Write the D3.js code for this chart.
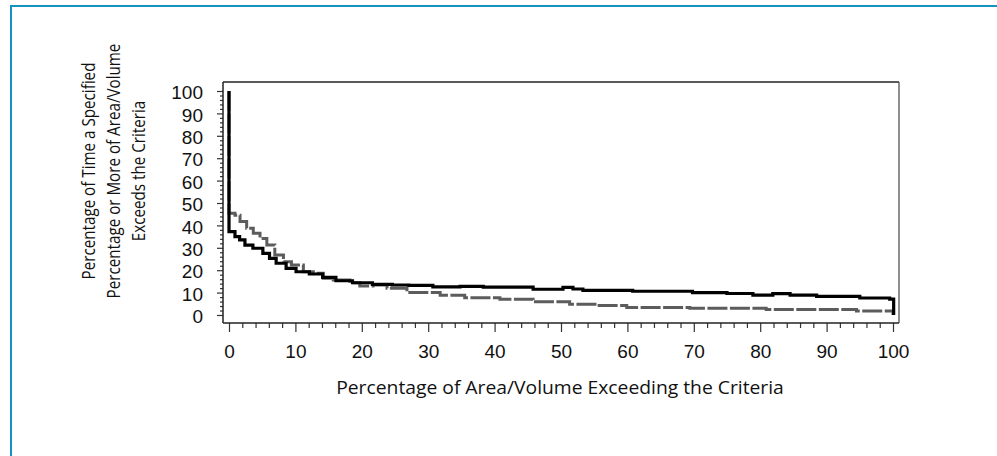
<!DOCTYPE html>
<html>
<head>
<meta charset="utf-8">
<script src="https://cdn.jsdelivr.net/npm/d3@7"></script>
<style>
  html, body { margin: 0; padding: 0; background: #fff; }
  svg { display: block; }
</style>
</head>
<body>
<svg id="chart" width="997" height="456"></svg>
<script>
// ---- data ----
const xTickLabels = [0, 10, 20, 30, 40, 50, 60, 70, 80, 90, 100];
const yTickLabels = [0, 10, 20, 30, 40, 50, 60, 70, 80, 90, 100];

// Solid black series: step starts (x) and level (y)
const solidX = [0, 0, 0.9, 1.6, 2.4, 3.6, 5.1, 6.1, 7.1, 8.6, 10.1, 12.1, 14.1, 16.1, 18.6, 21.6, 24.6, 27.1, 30.7, 34.8, 38.3, 45.8, 50.3, 51.8, 53.3, 60.8, 69.8, 75.0, 78.9, 81.9, 84.5, 88.5, 95.0, 99.5, 100.1];
const solidY = [100, 37.2, 35.0, 33.5, 31.2, 29.8, 27.5, 25.3, 23.1, 20.8, 19.3, 18.3, 16.8, 15.3, 14.4, 13.7, 13.4, 13.2, 12.6, 12.8, 12.4, 11.5, 12.3, 11.6, 11.0, 10.6, 10.0, 9.6, 8.9, 9.5, 8.9, 8.3, 7.6, 7.1, 0];

// Dashed grey series
const dashedX = [0, 0, 0.9, 1.66, 2.66, 3.66, 4.67, 5.7, 6.9, 8.2, 9.4, 11.2, 12.7, 14.2, 15.7, 18.2, 19.7, 21.7, 23.8, 26.8, 31.8, 35.5, 40.8, 45.8, 51.3, 55.4, 59.9, 69.4, 80.9, 94.5, 100];
const dashedY = [100, 45.4, 44.5, 41.7, 38.7, 36.5, 34.2, 31.2, 26.8, 23.8, 22.3, 19.3, 18.6, 16.4, 15.6, 14.4, 13.0, 13.4, 11.9, 10.1, 8.8, 7.7, 7.0, 5.9, 4.8, 4.2, 3.3, 3.0, 2.5, 1.8, 0];

const yTitleLines = ["Percentage of Time a Specified", "Percentage or More of Area/Volume", "Exceeds the Criteria"];
const xTitle = "Percentage of Area/Volume Exceeding the Criteria";

// ---- drawing ----
const svg = d3.select("#chart");
svg.append("rect").attr("width", 997).attr("height", 456).attr("fill", "#fff");

// outer frame (blue)
svg.append("path")
  .attr("d", "M11,456 L11,6 L997,6")
  .attr("fill", "none").attr("stroke", "#1592c4").attr("stroke-width", 2);

const x = d3.scaleLinear().domain([0, 100]).range([229, 893]);
const y = d3.scaleLinear().domain([0, 100]).range([315, 91]);

const box = { l: 223, r: 899, t: 82, b: 323 };

// plot frame
svg.append("line").attr("x1", box.l).attr("x2", box.r).attr("y1", box.t).attr("y2", box.t)
  .attr("stroke", "#222").attr("stroke-width", 1.5);
svg.append("line").attr("x1", box.r).attr("x2", box.r).attr("y1", box.t).attr("y2", box.b)
  .attr("stroke", "#444").attr("stroke-width", 1.2);

const tickFont = "'Liberation Sans', Arial, sans-serif";

// X axis
const xMinor = d3.range(0, 101, 2).filter(v => v % 10 !== 0);
const gx = svg.append("g").attr("transform", `translate(0,${box.b})`);
gx.call(d3.axisBottom(x).tickValues(xMinor).tickSize(5).tickFormat(""))
  .call(g => g.select(".domain").remove());
const gx2 = svg.append("g").attr("transform", `translate(0,${box.b})`);
gx2.call(d3.axisBottom(x).tickValues(xTickLabels).tickSize(9).tickFormat(d3.format("d")))
  .call(g => g.select(".domain").remove());
gx2.selectAll("text")
  .attr("y", 21.5).attr("dy", "0.71em")
  .style("font-family", tickFont)
  .style("font-size", "19px").attr("fill", "#111");

// Y axis
const yMinor = d3.range(0, 101, 2).filter(v => v % 10 !== 0);
const gy = svg.append("g").attr("transform", `translate(${box.l},0)`);
gy.call(d3.axisLeft(y).tickValues(yMinor).tickSize(3).tickFormat(""))
  .call(g => g.select(".domain").remove());
const gy2 = svg.append("g").attr("transform", `translate(${box.l},0)`);
gy2.call(d3.axisLeft(y).tickValues(yTickLabels).tickSize(6).tickFormat(d3.format("d")))
  .call(g => g.select(".domain").remove());
gy2.selectAll("text")
  .attr("x", -20).attr("dy", "0.4em")
  .style("font-family", tickFont)
  .style("font-size", "19px").attr("fill", "#111");
svg.selectAll(".tick line").attr("stroke", "#333").attr("stroke-width", 1.2);

// axis lines
svg.append("line").attr("x1", box.l).attr("x2", box.l).attr("y1", box.t).attr("y2", box.b)
  .attr("stroke", "#222").attr("stroke-width", 1.5);
svg.append("line").attr("x1", box.l).attr("x2", box.r).attr("y1", box.b).attr("y2", box.b)
  .attr("stroke", "#222").attr("stroke-width", 1.5);

// series
const line = d3.line().x(d => x(d[0])).y(d => y(d[1])).curve(d3.curveStepAfter);
const dashedData = dashedX.map((v, i) => [v, dashedY[i]]);
const solidData = solidX.map((v, i) => [v, solidY[i]]);

svg.append("path").datum(dashedData).attr("d", line)
  .attr("fill", "none").attr("stroke", "#5c5c5c").attr("stroke-width", 3)
  .attr("stroke-dasharray", "20,2.5");
svg.append("path").datum(solidData).attr("d", line)
  .attr("fill", "none").attr("stroke", "#000").attr("stroke-width", 3.2);

// titles
const titleFont = "'Open Sans', 'Noto Sans', sans-serif";
const xg = svg.append("g").attr("transform", "translate(560,394)");
const xt = xg.append("text").text(xTitle)
  .attr("x", 0).attr("y", 0).attr("text-anchor", "middle")
  .style("font-family", titleFont).style("font-size", "17.5px").attr("fill", "#111");
const xw = xt.node().getComputedTextLength();
xg.attr("transform", `translate(560,394) scale(${448 / xw},1)`);

const yt = svg.append("g").attr("transform", "translate(0,171) rotate(-90)");
const ytBase = [95, 120, 145.5];
const ytexts = yt.selectAll("text").data(yTitleLines).join("text")
  .text(d => d)
  .attr("x", 0).attr("y", (d, i) => ytBase[i]).attr("text-anchor", "middle")
  .style("font-family", titleFont).style("font-size", "17.5px").attr("fill", "#111");
const w2 = ytexts.nodes()[1].getComputedTextLength();
yt.attr("transform", `translate(0,171) rotate(-90) scale(${255 / w2},1)`);
</script>
</body>
</html>
